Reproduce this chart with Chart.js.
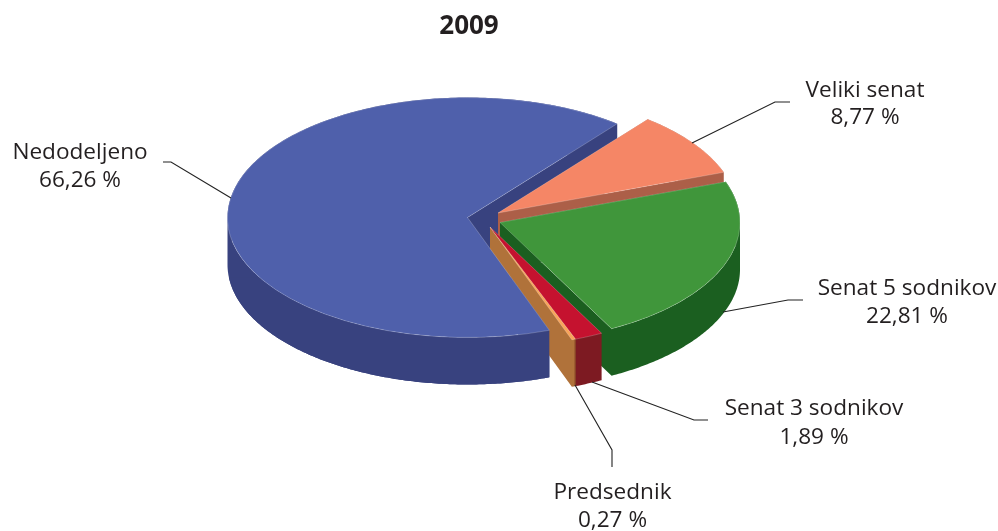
<!DOCTYPE html>
<html><head><meta charset="utf-8">
<style>html,body{margin:0;padding:0;background:#fff}#w{width:998px;height:531px;position:relative}</style>
<script src="https://cdn.jsdelivr.net/npm/chart.js@4"></script>
</head><body><div id="w"><canvas id="c"></canvas></div>
<script>
const chartTitle = '2009';
const categories = ['Veliki senat', 'Senat 5 sodnikov', 'Senat 3 sodnikov', 'Predsednik', 'Nedodeljeno'];
const shares = [8.77, 22.81, 1.89, 0.27, 66.26];
const topColors = ['#F58666', '#40963B', '#C5122F', '#F9A45A', '#4F60AB'];
const sideColors = ['#AC5F48', '#1B5F20', '#7D1A22', '#B0723A', '#38427F'];

// Pie projection (screen pixels)
const PIE_X = 467.5, PIE_Y = 217.5, TILT = 0.5, DEPTH = 47;
const explodeX = [30.5, 32.5, 22.5, 22.5, 0];
const explodeY = [-4.5, 5, 9.5, 9.5, 0];
// Label layout: [centre x, first baseline, second baseline], leader polyline
const labelPos = [
  {x:865, y:[97,124],  line:[[790,102],[775,102],[692,143]]},
  {x:907, y:[295,323], line:[[803,300],[788,300],[723,312]]},
  {x:814, y:[415,444], line:[[708,420],[694,420],[592,382]]},
  {x:612.5, y:[499,527], line:[[612,467],[612,450],[575,385]]},
  {x:80,  y:[159,187], line:[[163,162],[171,162],[231,198]]}
];

const pie3d = {
  id: 'pie3d',
  beforeDatasetsDraw(chart) {
    const ctx = chart.ctx, arcs = chart.getDatasetMeta(0).data;
    const outline = i => {
      const g = arcs[i].getProps(['startAngle', 'endAngle', 'outerRadius']);
      const cx = PIE_X + explodeX[i], cy = PIE_Y + explodeY[i];
      const pts = [[cx, cy]];
      const n = Math.max(2, Math.ceil((g.endAngle - g.startAngle) * 90));
      for (let k = 0; k <= n; k++) {
        const a = g.startAngle + (g.endAngle - g.startAngle) * k / n;
        pts.push([cx + g.outerRadius * Math.cos(a), cy + TILT * g.outerRadius * Math.sin(a)]);
      }
      return pts;
    };
    const paint = i => {
      const arc = arcs[i], base = arc.options;
      ctx.save();
      ctx.translate(PIE_X + explodeX[i], PIE_Y + explodeY[i]);
      ctx.scale(1, TILT);
      ctx.translate(-arc.x, -arc.y);
      arc.options = Object.assign({}, base, {backgroundColor: topColors[i], borderWidth: 1, borderColor: 'rgba(255,255,255,0.28)'});
      arc.draw(ctx);
      arc.options = base;
      ctx.restore();
    };
    // Extrude a slice's outline straight down as one solid path
    const sweep = i => {
      const pts = outline(i);
      ctx.beginPath();
      const addPoly = poly => {
        let area = 0;
        poly.forEach((p, k) => { const q = poly[(k + 1) % poly.length]; area += p[0] * q[1] - q[0] * p[1]; });
        const seq = area < 0 ? poly.slice().reverse() : poly;
        seq.forEach((p, k) => k ? ctx.lineTo(p[0], p[1]) : ctx.moveTo(p[0], p[1]));
        ctx.closePath();
      };
      pts.forEach((p, k) => {
        const q = pts[(k + 1) % pts.length];
        addPoly([p, q, [q[0], q[1] + DEPTH], [p[0], p[1] + DEPTH]]);
      });
      ctx.fillStyle = sideColors[i];
      ctx.fill('nonzero');
    };
    // back to front, index order: 0 Veliki, 1 Senat 5, 2 Senat 3, 3 Predsednik, 4 Nedodeljeno
    sweep(4); sweep(0); sweep(1); sweep(2); sweep(3);
    ctx.save();
    ctx.beginPath();
    ctx.rect(0, PIE_Y + 60, 998, 300);
    ctx.clip();
    sweep(4);
    ctx.restore();
    // crease between the flat cut and the rim of the thinnest slice
    const corner = outline(3)[1];
    ctx.strokeStyle = '#7E3A22';
    ctx.lineWidth = 1;
    ctx.beginPath();
    ctx.moveTo(corner[0] - 0.5, corner[1]);
    ctx.lineTo(corner[0] - 0.5, corner[1] + DEPTH);
    ctx.stroke();
    [4, 0, 1, 3, 2].forEach(paint);
    return false;
  },
  afterDraw(chart) {
    const ctx = chart.ctx;
    ctx.save();
    ctx.strokeStyle = '#222';
    ctx.lineWidth = 1.1;
    ctx.fillStyle = '#231F20';
    ctx.font = '22.6px "Open Sans"';
    ctx.textAlign = 'center';
    ctx.textBaseline = 'alphabetic';
    categories.forEach((name, i) => {
      const p = labelPos[i];
      ctx.beginPath();
      p.line.forEach((q, k) => k ? ctx.lineTo(q[0], q[1]) : ctx.moveTo(q[0], q[1]));
      ctx.stroke();
      ctx.fillText(name, p.x, p.y[0]);
      ctx.fillText(shares[i].toFixed(2).replace('.', ',') + ' %', p.x, p.y[1]);
    });
    ctx.restore();
  }
};

new Chart(document.getElementById('c'), {
  type: 'pie',
  data: { labels: categories, datasets: [{ data: shares, backgroundColor: topColors, borderWidth: 0 }] },
  options: {
    responsive: true, maintainAspectRatio: false, animation: false,
    radius: 240, rotation: 38.6,
    layout: { padding: { left: 231, right: 291, top: 0, bottom: 0 } },
    plugins: {
      legend: { display: false }, tooltip: { enabled: false },
      title: { display: true, text: chartTitle, fullSize: false, color: '#231F20',
        font: { family: '"Open Sans"', size: 26, weight: 'bold' }, padding: { top: 11, bottom: 6 } }
    }
  },
  plugins: [pie3d]
});
</script>
</body></html>
